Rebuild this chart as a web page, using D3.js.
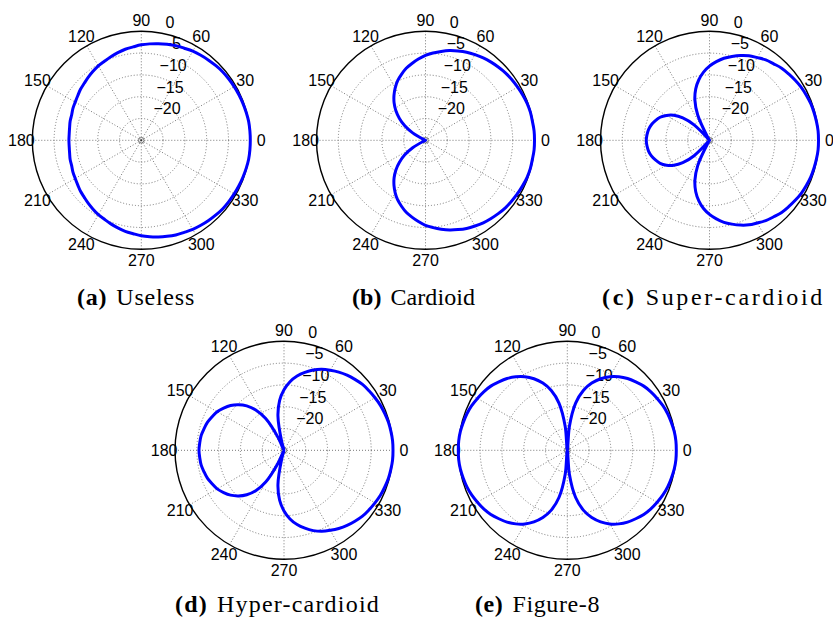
<!DOCTYPE html>
<html>
<head>
<meta charset="utf-8">
<script src="https://cdn.jsdelivr.net/npm/d3@7"></script>
<style>
  body { margin: 0; background: #fff; }
  .tick { font-family: "Liberation Sans", Arial, sans-serif; font-size: 16px; fill: #000; }
  .caption { font-family: "Liberation Serif", "Times New Roman", serif; font-size: 24px; fill: #000; }
</style>
</head>
<body>
<div id="chart"></div>
<script>
/* DATA */
const angles = [0, 5, 10, 15, 20, 25, 30, 35, 40, 45, 50, 55, 60, 65, 70, 75, 80, 85,
  90, 95, 100, 105, 110, 115, 120, 125, 130, 135, 140, 145, 150, 155, 160, 165, 170, 175,
  180, 185, 190, 195, 200, 205, 210, 215, 220, 225, 230, 235, 240, 245, 250, 255, 260, 265,
  270, 275, 280, 285, 290, 295, 300, 305, 310, 315, 320, 325, 330, 335, 340, 345, 350, 355];

// gain in dB, one value per angle
const useless = [0, 0, 0, -0.1, -0.2, -0.3, -0.4, -0.5, -0.6, -0.8, -1.0, -1.2, -1.4, -1.7, -1.9, -2.2, -2.5, -2.8,
  -3.1, -3.5, -3.8, -4.2, -4.6, -5.0, -5.3, -5.7, -6.1, -6.5, -6.8, -7.2, -7.5, -7.7, -8.0, -8.1, -8.3, -8.4,
  -8.4, -8.4, -8.3, -8.1, -8.0, -7.7, -7.5, -7.2, -6.8, -6.5, -6.1, -5.7, -5.3, -5.0, -4.6, -4.2, -3.8, -3.5,
  -3.1, -2.8, -2.5, -2.2, -1.9, -1.7, -1.4, -1.2, -1.0, -0.8, -0.6, -0.5, -0.4, -0.3, -0.2, -0.1, 0, 0];

const cardioid = [0, 0, -0.1, -0.1, -0.2, -0.4, -0.6, -0.8, -1.0, -1.3, -1.6, -1.9, -2.3, -2.7, -3.2, -3.7, -4.3, -4.9,
  -5.5, -6.3, -7.1, -7.9, -8.9, -9.9, -11.1, -12.4, -13.8, -15.4, -17.2, -19.2, -21.6, -24.5, -25, -25, -25, -25,
  -25, -25, -25, -25, -25, -24.5, -21.6, -19.2, -17.2, -15.4, -13.8, -12.4, -11.1, -9.9, -8.9, -7.9, -7.1, -6.3,
  -5.5, -4.9, -4.3, -3.7, -3.2, -2.7, -2.3, -1.9, -1.6, -1.3, -1.0, -0.8, -0.6, -0.4, -0.2, -0.1, -0.1, 0];

const superCardioid = [0, 0, -0.1, -0.2, -0.3, -0.5, -0.7, -1.0, -1.3, -1.6, -2.1, -2.5, -3.1, -3.6, -4.3, -5.1, -5.9, -6.9,
  -8.0, -9.3, -10.9, -12.8, -15.2, -18.6, -24.1, -25, -25, -20.0, -17.0, -15.0, -13.6, -12.5, -11.8, -11.2, -10.8, -10.6,
  -10.5, -10.6, -10.8, -11.2, -11.8, -12.5, -13.6, -15.0, -17.0, -20.0, -25, -25, -24.1, -18.6, -15.2, -12.8, -10.9, -9.3,
  -8.0, -6.9, -5.9, -5.1, -4.3, -3.6, -3.1, -2.5, -2.1, -1.6, -1.3, -1.0, -0.7, -0.5, -0.3, -0.2, -0.1, 0];

const hyperCardioid = [0, 0, -0.1, -0.2, -0.4, -0.6, -0.9, -1.2, -1.5, -2.0, -2.5, -3.1, -3.8, -4.5, -5.4, -6.5, -7.7, -9.2,
  -11.1, -13.5, -17.0, -23.1, -25, -21.6, -16.6, -13.7, -11.7, -10.2, -9.0, -8.1, -7.3, -6.8, -6.3, -6.0, -5.7, -5.6,
  -5.5, -5.6, -5.7, -6.0, -6.3, -6.8, -7.3, -8.1, -9.0, -10.2, -11.7, -13.7, -16.6, -21.6, -25, -23.1, -17.0, -13.5,
  -11.1, -9.2, -7.7, -6.5, -5.4, -4.5, -3.8, -3.1, -2.5, -2.0, -1.5, -1.2, -0.9, -0.6, -0.4, -0.2, -0.1, 0];

const figure8 = [0, 0, -0.1, -0.3, -0.5, -0.8, -1.2, -1.6, -2.1, -2.8, -3.5, -4.4, -5.5, -6.9, -8.6, -10.8, -14.0, -19.5,
  -25, -19.5, -14.0, -10.8, -8.6, -6.9, -5.5, -4.4, -3.5, -2.8, -2.1, -1.6, -1.2, -0.8, -0.5, -0.3, -0.1, 0,
  0, 0, -0.1, -0.3, -0.5, -0.8, -1.2, -1.6, -2.1, -2.8, -3.5, -4.4, -5.5, -6.9, -8.6, -10.8, -14.0, -19.5,
  -25, -19.5, -14.0, -10.8, -8.6, -6.9, -5.5, -4.4, -3.5, -2.8, -2.1, -1.6, -1.2, -0.8, -0.5, -0.3, -0.1, 0];

const patterns = [useless, cardioid, superCardioid, hyperCardioid, figure8];
const panelTags = ["(a)", "(b)", "(c)", "(d)", "(e)"];
const panelNames = ["Useless", "Cardioid", "Super-cardioid", "Hyper-cardioid", "Figure-8"];

const angleTicks = [0, 30, 60, 90, 120, 150, 180, 210, 240, 270, 300, 330];
const ringTicks = [0, -5, -10, -15, -20];
const dbFloor = -25;

/* LAYOUT */
const width = 833, height = 617;
const R = 109;
const centers = [[141.3, 140.3], [425.5, 140.3], [709.5, 140.3], [284, 450.3], [567.3, 450.3]];
// caption left edge, baseline, width
const captionBox = [[77, 305, 118], [352, 305, 123], [602, 305, 223], [175, 612, 205], [475, 612, 125]];
const capGap = 9;

const svg = d3.select("#chart")
  .append("svg")
  .attr("width", width)
  .attr("height", height);

/* SCALES */
const rScale = d3.scaleLinear()
  .domain([dbFloor, 0])
  .range([0, R])
  .clamp(true);

const rad = d => d * Math.PI / 180;

// math angle (ccw from east) -> d3 radial angle (cw from north)
const line = d3.lineRadial()
  .angle(function(d) { return Math.PI / 2 - rad(d.angle); })
  .radius(function(d) { return rScale(d.db); })
  .curve(d3.curveCatmullRomClosed.alpha(0.5));

function drawPanel(i) {
  const [cx, cy] = centers[i];
  const g = svg.append("g").attr("transform", `translate(${cx},${cy})`);

  // dotted rings
  g.selectAll(".ring")
    .data(ringTicks.filter(d => d < 0))
    .enter()
    .append("circle")
      .attr("r", d => rScale(d))
      .attr("fill", "none")
      .attr("stroke", "#777")
      .attr("stroke-width", 1)
      .attr("stroke-dasharray", "1,2");

  // spokes
  g.selectAll(".spoke")
    .data(angleTicks)
    .enter()
    .append("line")
      .attr("x1", 0).attr("y1", 0)
      .attr("x2", d => R * Math.cos(rad(d)))
      .attr("y2", d => -R * Math.sin(rad(d)))
      .attr("stroke", "#777")
      .attr("stroke-width", 1)
      .attr("stroke-dasharray", "1,2");

  // centre mark
  g.append("circle").attr("r", 2.7).attr("fill", "none").attr("stroke", "#555").attr("stroke-width", 0.8);
  g.append("circle").attr("r", 0.9).attr("fill", "#333");

  // outer frame
  g.append("circle")
    .attr("r", R)
    .attr("fill", "none")
    .attr("stroke", "#000")
    .attr("stroke-width", 1.4);

  // angle labels
  g.selectAll(".alab")
    .data(angleTicks)
    .enter()
    .append("text")
      .attr("class", "tick")
      .attr("x", d => 1.1 * R * Math.cos(rad(d)))
      .attr("y", d => -1.1 * R * Math.sin(rad(d)))
      .attr("text-anchor", "middle")
      .attr("dominant-baseline", "central")
      .text(d => d);

  // ring labels at 82 degrees
  g.selectAll(".rlab")
    .data(ringTicks)
    .enter()
    .append("text")
      .attr("class", "tick")
      .attr("x", d => (rScale(d) + 1) * Math.cos(rad(82)) + 9)
      .attr("y", d => -(rScale(d) + 1) * Math.sin(rad(82)) - 3.5)
      .attr("text-anchor", "start")
      .text(d => d < 0 ? "\u2212" + Math.abs(d) : d);

  // pattern
  const pts = angles.map((a, k) => ({angle: a, db: patterns[i][k]}));
  g.append("path")
    .datum(pts)
    .attr("d", line)
    .attr("fill", "none")
    .attr("stroke", "#0000ff")
    .attr("stroke-width", 3)
    .attr("stroke-linejoin", "round");

  // caption, spread to the width of the original
  const [lx, by, w] = captionBox[i];
  const cap = svg.append("text")
    .attr("class", "caption")
    .attr("x", lx)
    .attr("y", by);
  cap.append("tspan").attr("font-weight", "bold").text(panelTags[i]);
  cap.append("tspan").attr("dx", capGap).text(panelNames[i]);
  const natural = cap.node().getComputedTextLength();
  const n = panelTags[i].length + panelNames[i].length;
  cap.attr("letter-spacing", Math.max(0, (w - natural - capGap) / n));
}

patterns.forEach((p, i) => drawPanel(i));
</script>
</body>
</html>
